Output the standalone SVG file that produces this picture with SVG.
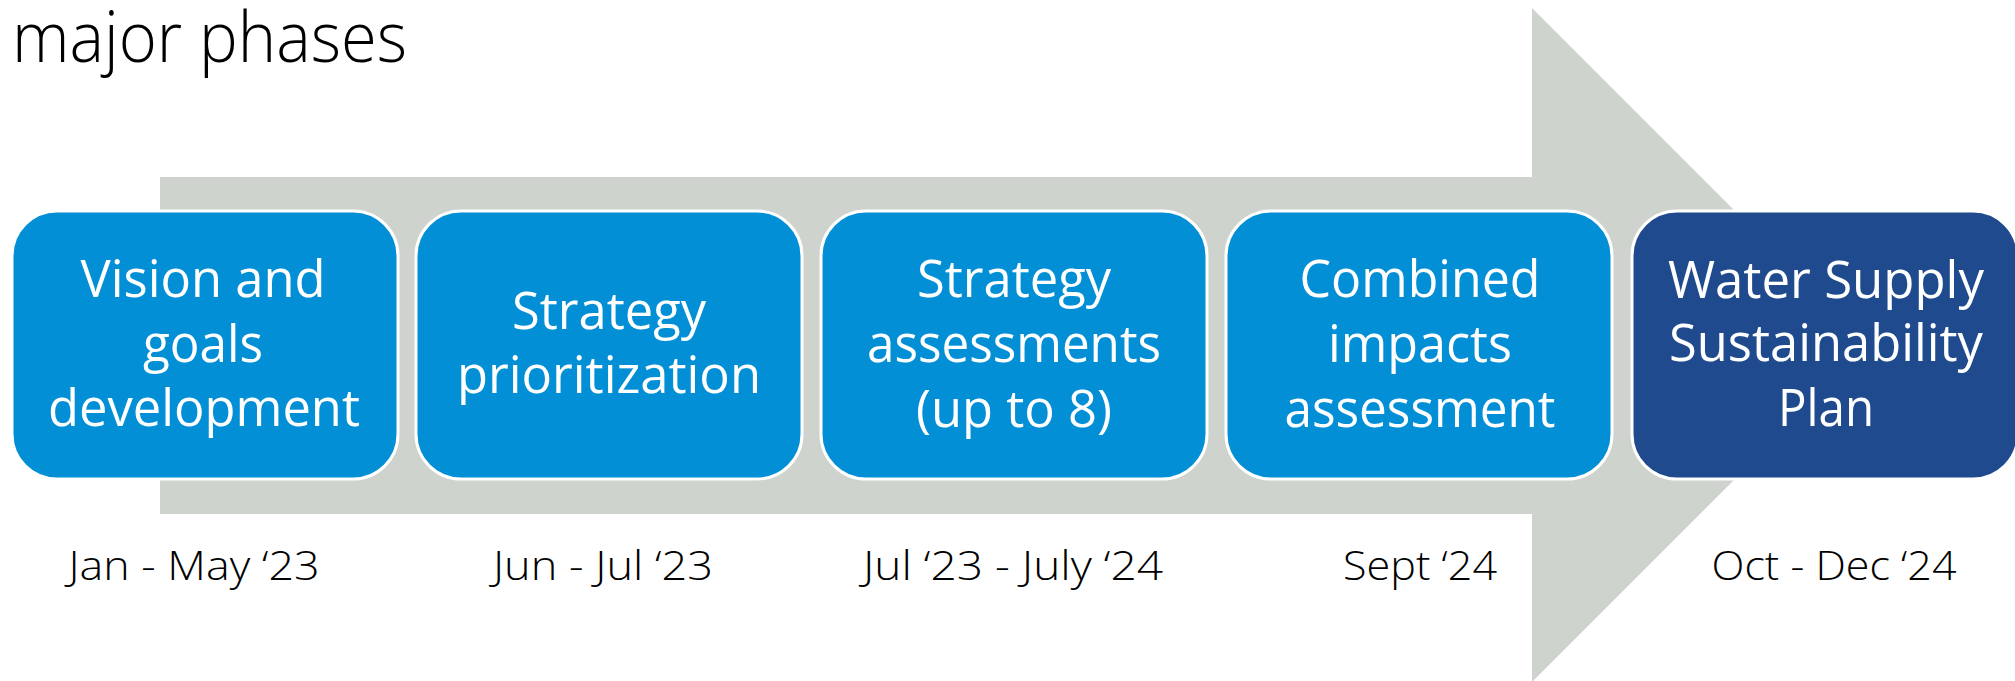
<svg xmlns="http://www.w3.org/2000/svg" width="2015" height="681" viewBox="0 0 2015 681">
<style>
.box{fill:#038FD6;stroke:#FFFFFF;stroke-width:3}
.dark{fill:#1F4A8D}
.lbl{font-family:"Open Sans","Liberation Sans",sans-serif;font-size:51px;fill:#FFFFFF;text-anchor:middle}
.date{font-family:"Open Sans","Liberation Sans",sans-serif;font-weight:300;font-size:41px;fill:#000000;text-anchor:middle}
.title{font-family:"Open Sans","Liberation Sans",sans-serif;font-weight:300;font-size:70px;fill:#000000}
</style>
<rect width="2015" height="681" fill="#FFFFFF"/>
<text class="title" x="12" y="62" textLength="395" lengthAdjust="spacingAndGlyphs">major phases</text>
<g id="connectors">
<polygon points="160,177 1532,177 1532,8 1869,345 1532,682 1532,514 160,514" fill="#CFD3CE"/>
</g>
<g id="node1">
<rect class="box" x="12" y="211" width="386" height="268" rx="45" ry="45"/>
<text class="lbl" x="203" y="297" textLength="245" lengthAdjust="spacingAndGlyphs">Vision and</text>
<text class="lbl" x="203" y="362" textLength="120" lengthAdjust="spacingAndGlyphs">goals</text>
<text class="lbl" x="204" y="426" textLength="312" lengthAdjust="spacingAndGlyphs">development</text>
<text class="date" x="194" y="580" textLength="251" lengthAdjust="spacingAndGlyphs">Jan - May ‘23</text>
</g>
<g id="node2">
<rect class="box" x="416" y="211" width="386" height="268" rx="45" ry="45"/>
<text class="lbl" x="609" y="329" textLength="194" lengthAdjust="spacingAndGlyphs">Strategy</text>
<text class="lbl" x="609" y="393" textLength="304" lengthAdjust="spacingAndGlyphs">prioritization</text>
<text class="date" x="603" y="580" textLength="220" lengthAdjust="spacingAndGlyphs">Jun - Jul ‘23</text>
</g>
<g id="node3">
<rect class="box" x="821" y="211" width="386" height="268" rx="45" ry="45"/>
<text class="lbl" x="1014" y="297" textLength="194" lengthAdjust="spacingAndGlyphs">Strategy</text>
<text class="lbl" x="1014" y="362" textLength="294" lengthAdjust="spacingAndGlyphs">assessments</text>
<text class="lbl" x="1014" y="427" textLength="196" lengthAdjust="spacingAndGlyphs">(up to 8)</text>
<text class="date" x="1013" y="580" textLength="300" lengthAdjust="spacingAndGlyphs">Jul ‘23 - July ‘24</text>
</g>
<g id="node4">
<rect class="box" x="1226" y="211" width="386" height="268" rx="45" ry="45"/>
<text class="lbl" x="1420" y="297" textLength="241" lengthAdjust="spacingAndGlyphs">Combined</text>
<text class="lbl" x="1420" y="362" textLength="184" lengthAdjust="spacingAndGlyphs">impacts</text>
<text class="lbl" x="1420" y="427" textLength="271" lengthAdjust="spacingAndGlyphs">assessment</text>
<text class="date" x="1420" y="580" textLength="154" lengthAdjust="spacingAndGlyphs">Sept ‘24</text>
</g>
<g id="node5">
<rect class="box dark" x="1632" y="211" width="386" height="268" rx="45" ry="45"/>
<text class="lbl" x="1826" y="298" textLength="316" lengthAdjust="spacingAndGlyphs">Water Supply</text>
<text class="lbl" x="1826" y="361" textLength="314" lengthAdjust="spacingAndGlyphs">Sustainability</text>
<text class="lbl" x="1826" y="426" textLength="96" lengthAdjust="spacingAndGlyphs">Plan</text>
<text class="date" x="1834" y="580" textLength="245" lengthAdjust="spacingAndGlyphs">Oct - Dec ‘24</text>
</g>
</svg>
